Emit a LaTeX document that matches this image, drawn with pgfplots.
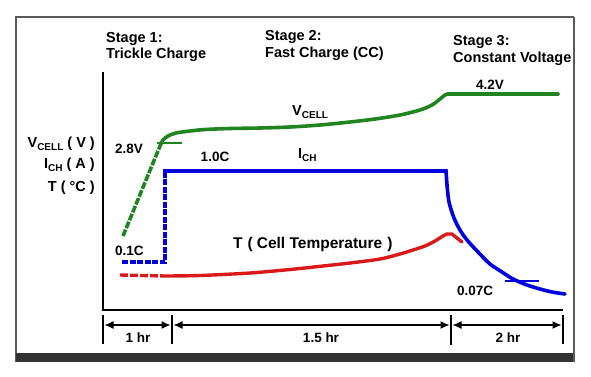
\documentclass[border=0pt]{standalone}
\usepackage{pgfplots}
\pgfplotsset{compat=1.18}
\usepackage{fontspec}
\setmainfont{Liberation Sans}
\usetikzlibrary{arrows.meta}
\definecolor{vgreen}{RGB}{32,133,32}
\definecolor{iblue}{RGB}{0,0,225}
\definecolor{tred}{RGB}{218,25,25}
\definecolor{framegray}{RGB}{90,90,90}
\newcommand{\sub}[1]{\raisebox{-0.45ex}{\fontsize{10}{10}\selectfont #1}}
\tikzset{lbl/.style={font=\bfseries\fontsize{14.5}{16}\selectfont, inner sep=0pt},
         sml/.style={font=\bfseries\fontsize{13.5}{15}\selectfont, inner sep=0pt}}
\begin{document}
\begin{tikzpicture}
\begin{axis}[
  name=ax,
  width=591pt, height=376pt, scale only axis,
  xmin=0, xmax=591, ymin=0, ymax=376, y dir=reverse,
  axis lines=none, clip=false,
]
% canvas extent (invisible)
\addplot[draw=none, forget plot] coordinates {(0,0) (591,376)};
% frame
\addplot[framegray, line width=2.2pt] coordinates {(16,16.5) (16,362)};
\addplot[framegray, line width=2.2pt] coordinates {(14.9,17) (574.1,17)};
\addplot[framegray, line width=2.2pt] coordinates {(574,17) (574,362)};
\addplot[black!80, line width=9pt] coordinates {(16,357.5) (573,357.5)};
% axis lines
\addplot[black, line width=2.8pt, line join=miter] coordinates {(103,72) (103,310) (563,310)};
% dimension lines
\addplot[black, line width=2.2pt] coordinates {(103,315) (103,344)};
\addplot[black, line width=2.2pt] coordinates {(172,315) (172,344)};
\addplot[black, line width=2.6pt] coordinates {(451,315) (451,345)};
\addplot[black, line width=2.2pt] coordinates {(563,315) (563,344)};
\addplot[black, line width=1.2pt, {Latex[length=9pt,width=8pt]}-{Latex[length=9pt,width=8pt]}] coordinates {(104.5,325) (170.5,325)};
\addplot[black, line width=1.2pt, {Latex[length=9pt,width=8pt]}-{Latex[length=9pt,width=8pt]}] coordinates {(173.5,325) (449.5,325)};
\addplot[black, line width=1.2pt, {Latex[length=9pt,width=8pt]}-{Latex[length=9pt,width=8pt]}] coordinates {(452.5,325) (561.5,325)};
% V_CELL
\addplot[vgreen, line width=3.6pt, dash pattern=on 7pt off 1.5pt] coordinates {(123,236) (160,146)};
\addplot[vgreen, line width=3.6pt, smooth, tension=0.5, line cap=round] coordinates {
 (160,146) (163,140) (168,136) (176,133) (190,131) (205,129.5) (230,128.5) (260,128) (290,127)
 (320,125) (350,122) (375,119) (400,115) (420,110) (432,105) (440,99) (445,95) (448,94)};
\addplot[vgreen, line width=3.6pt, line cap=round] coordinates {(448,94) (558,94)};
\addplot[vgreen, line width=1.6pt] coordinates {(157,143) (182,143)};
% I_CH
\addplot[iblue, line width=3.6pt, dash pattern=on 6pt off 1.5pt] coordinates {(122,262) (165,262) (165,172)};
\addplot[iblue, line width=3.6pt, line join=miter] coordinates {(165,173) (165,171) (446,171) (447,185)};
\addplot[iblue, line width=3.6pt, smooth, tension=0.5, line cap=round] coordinates {
 (447,185) (449,202) (454,218) (460,230) (467,240) (478,252) (490,264) (502,272) (513,279) (527,285) (540,289) (552,292) (565,294)};
\addplot[iblue, line width=1.6pt] coordinates {(505,281) (539,281)};
% T
\addplot[tred, line width=3.4pt, dash pattern=on 8pt off 2pt] coordinates {(120,275) (165,276)};
\addplot[tred, line width=3.4pt, smooth, tension=0.5, line cap=round] coordinates {
 (165,276) (200,275.5) (250,273) (290,269.5) (323,266) (350,263) (380,259) (400,254) (413,250) (425,246) (435,241) (443,236) (447,234)};
\addplot[tred, line width=3.4pt, line cap=round, line join=round] coordinates {(447,234) (452,234) (457,238) (462,242)};
% texts
\node[lbl, anchor=base west] at (axis cs:106,42) {Stage 1:};
\node[lbl, anchor=base west] at (axis cs:106,58.5) {Trickle Charge};
\node[lbl, anchor=base west] at (axis cs:265,40.5) {Stage 2:};
\node[lbl, anchor=base west] at (axis cs:265,57) {Fast Charge (CC)};
\node[lbl, anchor=base west] at (axis cs:453,45.5) {Stage 3:};
\node[lbl, anchor=base west] at (axis cs:453,62.5) {Constant Voltage};
\node[lbl, anchor=base east] at (axis cs:95,147) {V\sub{CELL} ( V )};
\node[lbl, anchor=base east] at (axis cs:95,168) {I\sub{CH} ( A )};
\node[lbl, anchor=base east] at (axis cs:95,191.5) {T ( °C )};
\node[sml, anchor=base] at (axis cs:490,89) {4.2V};
\node[lbl, anchor=base west] at (axis cs:292,115) {V\sub{CELL}};
\node[lbl, anchor=base west] at (axis cs:298,158) {I\sub{CH}};
\node[sml, anchor=base] at (axis cs:215,161) {1.0C};
\node[sml, anchor=base east] at (axis cs:143,153) {2.8V};
\node[sml, anchor=base west] at (axis cs:115,255) {0.1C};
\node[lbl, anchor=base west, font=\bfseries\fontsize{15.5}{17}\selectfont] at (axis cs:233,248) {T\hspace{5pt}(\hspace{4pt}Cell Temperature\hspace{5pt})};
\node[sml, anchor=base west] at (axis cs:457,295) {0.07C};
\node[sml, anchor=base] at (axis cs:138,342) {1 hr};
\node[sml, anchor=base] at (axis cs:321,342) {1.5 hr};
\node[sml, anchor=base] at (axis cs:508,342) {2 hr};
\end{axis}
\path[use as bounding box] (ax.south west) rectangle (ax.north east);
\end{tikzpicture}
\end{document}
